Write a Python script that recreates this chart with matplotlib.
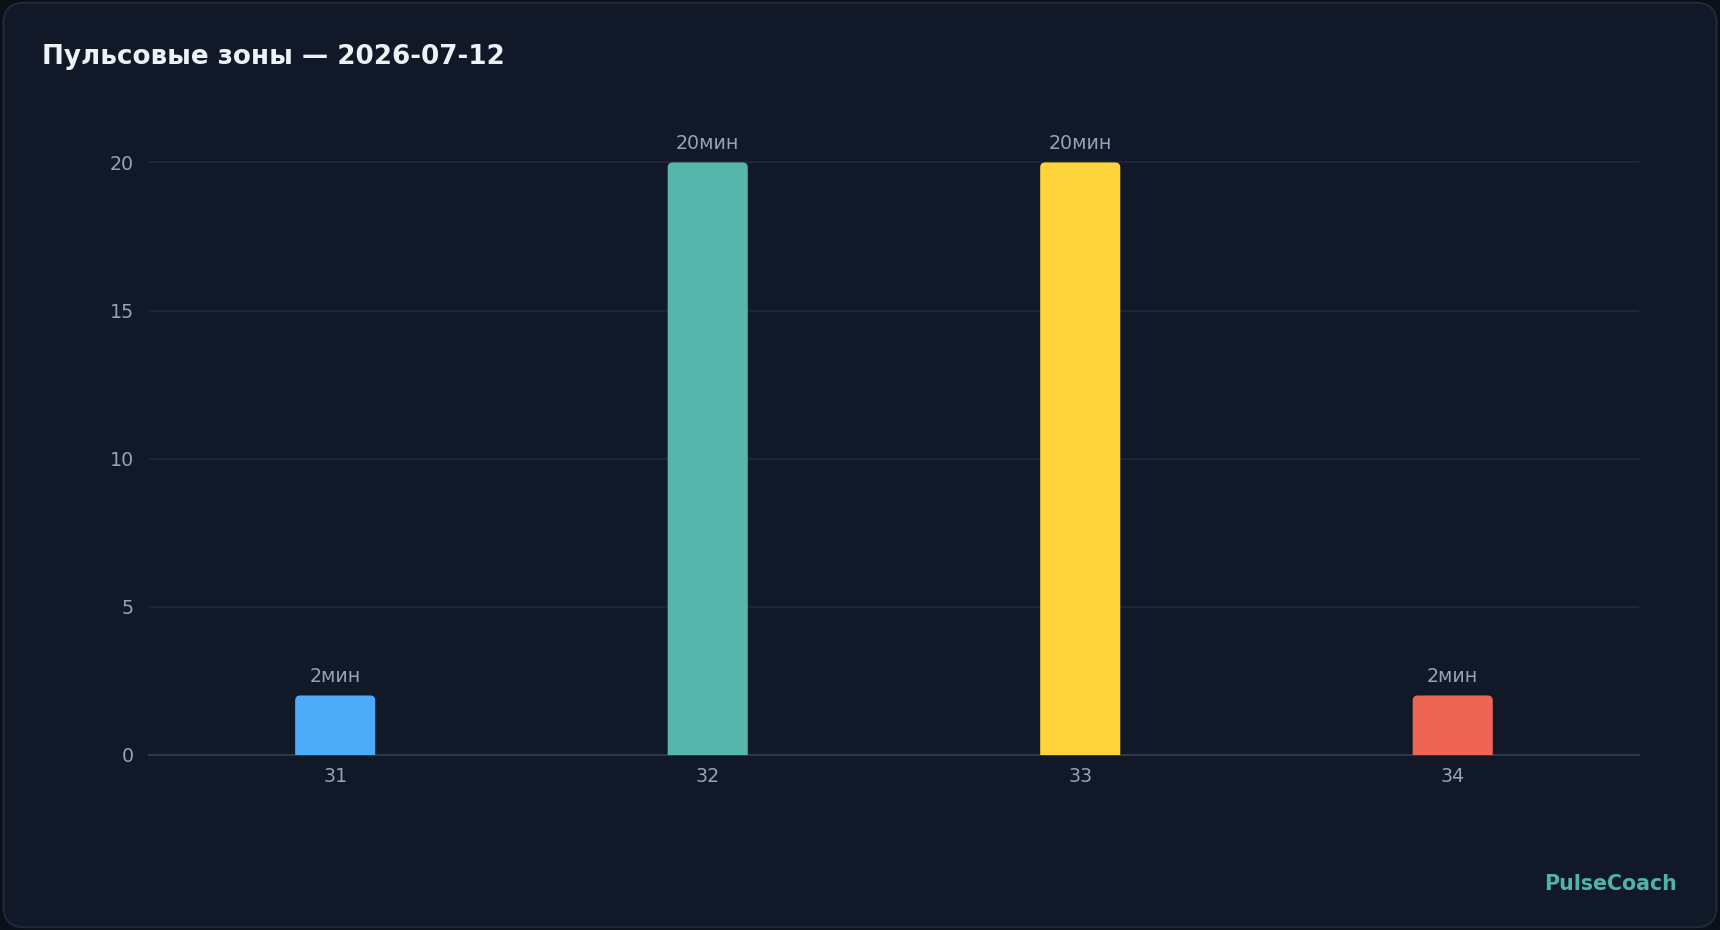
import numpy as np
import matplotlib.pyplot as plt
from matplotlib.patches import FancyBboxPatch

# data
zones = ['31', '32', '33', '34']
minutes = [2, 20, 20, 2]
labels = ['2мин', '20мин', '20мин', '2мин']
colors = ['#4dabf7', '#56b6ac', '#ffd43b', '#ef6555']

bg = '#111827'
text_col = '#94a3b8'

fig = plt.figure(figsize=(17.2, 9.3), dpi=100)
fig.patch.set_facecolor('#0b0f17')

# card background
card = FancyBboxPatch((0.002, 0.003), 0.996, 0.994, boxstyle='round,pad=0,rounding_size=0.012',
                      transform=fig.transFigure, facecolor=bg, edgecolor='#1f2937', linewidth=1.5,
                      mutation_aspect=1720/930, zorder=-10)
fig.patches.append(card)

ax = fig.add_axes([0.0866, 0.1885, 0.8663, 0.6846])
ax.set_facecolor(bg)

x = np.arange(len(zones))
w = 0.215
bars = ax.bar(x, minutes, width=w, color=colors)

# swap plain bars for ones with rounded tops
ylim_top = 21.5
ax.set_xlim(-0.5, len(zones) - 0.5)
ax.set_ylim(0, ylim_top)
px_x = 1490 / 4.0
px_y = 637 / ylim_top
asp = px_x / px_y
for b, c in zip(bars, colors):
    b.set_visible(False)
    r = 5 / px_x
    p = FancyBboxPatch((b.get_x(), -1), b.get_width(), b.get_height() + 1,
                       boxstyle='round,pad=0,rounding_size=%f' % r,
                       mutation_aspect=asp, facecolor=c, edgecolor='none', zorder=3)
    ax.add_patch(p)

for xi, v, lab in zip(x, minutes, labels):
    ax.annotate(lab, (xi, v), xytext=(0, 6.5), textcoords='offset points',
                ha='center', va='bottom', color=text_col, fontsize=13.7)

ax.set_yticks([0, 5, 10, 15, 20])
ax.set_xticks(x)
ax.set_xticklabels(zones)
ax.tick_params(axis='both', length=0, colors=text_col, labelsize=13.7)
ax.tick_params(axis='y', pad=10.8)
ax.tick_params(axis='x', pad=8.5)
ax.grid(axis='y', color='#1f2937', linewidth=1.2, zorder=0)
ax.set_axisbelow(True)
for s in ['top', 'right', 'left']:
    ax.spines[s].set_visible(False)
ax.spines['bottom'].set_color('#2d3748')
ax.spines['bottom'].set_linewidth(1.5)

fig.text(42/1720, 1 - 64/930, 'Пульсовые зоны — 2026-07-12', color='#eef2f7',
         fontsize=18.9, fontweight='bold', ha='left', va='baseline')
fig.text(1677/1720, 1 - 890/930, 'PulseCoach', color='#4fb3a5',
         fontsize=14.8, fontweight='bold', ha='right', va='baseline')

fig.savefig('out.png', dpi=100, facecolor=fig.get_facecolor())
